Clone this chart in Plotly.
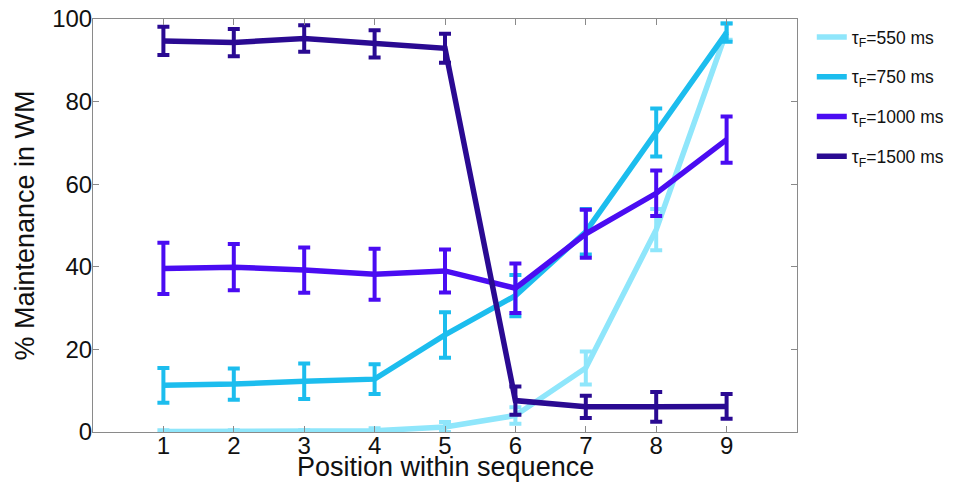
import plotly.graph_objects as go

positions = [1, 2, 3, 4, 5, 6, 7, 8, 9]
series_names = ["τ<sub>F</sub>=550 ms", "τ<sub>F</sub>=750 ms", "τ<sub>F</sub>=1000 ms", "τ<sub>F</sub>=1500 ms"]
colors = ["#8fe6fb", "#1cbdee", "#4a0cf2", "#2a0a92"]

vals_550 = [0.1, 0.1, 0.1, 0.3, 1.2, 4.0, 15.5, 49, 97]
err_550 = [0.3, 0.3, 0.3, 0.6, 1.2, 2.0, 4.0, 5.0, 2.0]
vals_750 = [11.3, 11.6, 12.3, 12.8, 23.5, 33.0, 48.5, 72.5, 96.7]
err_750 = [4.2, 3.8, 4.3, 3.6, 5.5, 5.0, 5.5, 5.8, 2.2]
vals_1000 = [39.6, 39.9, 39.2, 38.2, 39.0, 34.8, 48.0, 57.8, 70.8]
err_1000 = [6.2, 5.6, 5.5, 6.2, 5.2, 6.0, 5.8, 5.5, 5.6]
vals_1500 = [94.7, 94.3, 95.3, 94.0, 92.9, 7.6, 6.1, 6.1, 6.2]
err_1500 = [3.4, 3.3, 3.2, 3.3, 3.5, 3.4, 2.7, 3.6, 3.0]

all_vals = [vals_550, vals_750, vals_1000, vals_1500]
all_errs = [err_550, err_750, err_1000, err_1500]

fig = go.Figure()
for i, (name, c, v, e) in enumerate(zip(series_names, colors, all_vals, all_errs)):
    fig.add_trace(go.Scatter(
        x=positions, y=v, name=name, mode="lines",
        line=dict(color=c, width=5.5),
        error_y=dict(type="data", array=e, visible=True, color=c, thickness=4, width=6),
        legendgroup=str(i),
    ))

font_family = "Liberation Sans, Arial, Helvetica, sans-serif"
axis_common = dict(
    showline=True, linecolor="#8a8a8a", linewidth=1, mirror="ticks",
    ticks="inside", ticklen=6, tickcolor="#8a8a8a", showgrid=False, zeroline=False,
    tickfont=dict(size=24, color="#111", family=font_family),
    ticklabeloverflow="allow",
)
fig.update_layout(
    width=963, height=483,
    margin=dict(l=85, r=174, t=11, b=59, autoexpand=False),
    paper_bgcolor="white", plot_bgcolor="white",
    font=dict(family=font_family, color="#111"),
    xaxis=dict(range=[0, 10], tickvals=positions, ticktext=[str(p) for p in positions],
               ticklabelstandoff=-8,
               **axis_common),
    yaxis=dict(range=[0, 100], tickvals=[0, 20, 40, 60, 80, 100],
               ticklabelstandoff=-5,
               title=dict(text="% Maintenance in WM", font=dict(size=27), standoff=9),
               **axis_common),
    legend=dict(x=1.021, y=1.0, xanchor="left", yanchor="top",
                font=dict(size=17.5, family=font_family, color="#111"),
                tracegroupgap=14, itemwidth=30, bgcolor="rgba(0,0,0,0)"),
    showlegend=True,
    annotations=[dict(text="Position within sequence", xref="paper", yref="paper",
                      x=0.5, y=-0.085, xanchor="center", yanchor="middle",
                      showarrow=False, font=dict(size=27, family=font_family, color="#111"))],
)
fig.write_html("out.html")
